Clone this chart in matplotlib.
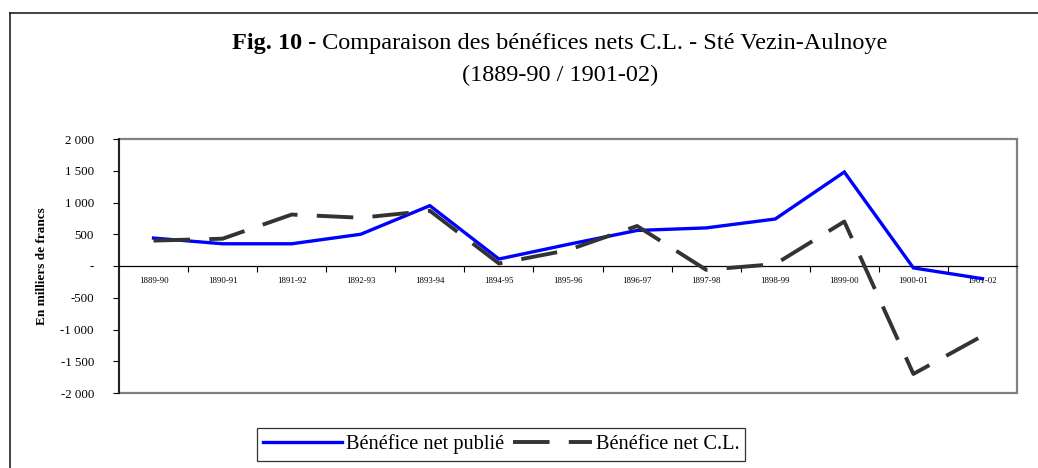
import matplotlib
matplotlib.use('Agg')
import numpy as np
import matplotlib.pyplot as plt
from matplotlib.lines import Line2D
from matplotlib.patches import Rectangle

# Exercices comptables
exercices = ['1889-90', '1890-91', '1891-92', '1892-93', '1893-94', '1894-95',
             '1895-96', '1896-97', '1897-98', '1898-99', '1899-00', '1900-01',
             '1901-02']

# Bénéfices en milliers de francs
benef_publie = [440, 350, 350, 500, 950, 110, 340, 560, 600, 740, 1480, -30, -200]
benef_cl = [400, 430, 810, 760, 870, 40, 250, 630, -60, 30, 700, -1700, -1100]

y_ticks = [-2000, -1500, -1000, -500, 0, 500, 1000, 1500, 2000]

plt.rcParams['font.family'] = ['Liberation Serif', 'DejaVu Serif']


def fmt_fr(v):
    if v == 0:
        return '-'
    s = f'{abs(v):,}'.replace(',', ' ')
    return ('-' if v < 0 else '') + s


def main():
    fig = plt.figure(figsize=(10.38, 4.68), dpi=100)
    W, H = 1038, 468

    # cadre de la figure (haut et gauche)
    fig.add_artist(Line2D([10 / W, 1.0], [1 - 13 / H, 1 - 13 / H],
                          transform=fig.transFigure, color='#222222', lw=1.2))
    fig.add_artist(Line2D([10 / W, 10 / W], [0.0, 1 - 13 / H],
                          transform=fig.transFigure, color='#222222', lw=1.2))

    left, right, top, bottom = 119, 1017, 139, 393
    ax = fig.add_axes([left / W, 1 - bottom / H, (right - left) / W, (bottom - top) / H])
    ax.set_xlim(-0.5, len(exercices) - 0.5)
    ax.set_ylim(-2000, 2000)

    x = list(range(len(exercices)))

    # motif de tirets : un tiret sur le creux de 1900-01
    lw_cl = 2.8
    px_per_unit = lw_cl * 100 / 72
    pts = ax.transData.transform(np.column_stack([x, benef_cl]))
    seg = np.hypot(*np.diff(pts, axis=0).T)
    L = seg[:11].sum()
    on_ratio = 0.655
    n = round((L - 18) / 55)
    period = (L - 0.5 * on_ratio * (L - 18) / n) / n
    dash_on = on_ratio * period / px_per_unit
    dash_off = (1 - on_ratio) * period / px_per_unit

    ax.plot(x, benef_publie, color='#0000FF', lw=2.4, solid_joinstyle='miter',
            label='Bénéfice net publié', zorder=3)
    ax.plot(x, benef_cl, color='#333333', lw=lw_cl, linestyle=(0, (dash_on, dash_off)),
            label='Bénéfice net C.L.', zorder=4)

    # axe des abscisses sur la ligne zéro
    ax.spines['bottom'].set_position(('data', 0))
    ax.spines['bottom'].set_color('black')
    ax.spines['bottom'].set_linewidth(0.9)
    ax.spines['top'].set_visible(False)
    ax.spines['right'].set_visible(False)
    ax.spines['left'].set_color('#111111')
    ax.spines['left'].set_linewidth(1.2)
    ax.add_patch(Rectangle((0, 0), 1, 1, transform=ax.transAxes, fill=False,
                           edgecolor='#808080', lw=1.6, zorder=1, clip_on=False))

    ax.set_xticks(x)
    ax.set_xticklabels(exercices, fontsize=6.3)
    ax.set_xticks([i + 0.5 for i in x[:-1]], minor=True)
    ax.tick_params(axis='x', which='major', length=0, pad=8)
    ax.tick_params(axis='x', which='minor', length=4, width=0.8, direction='out')

    ax.set_yticks(y_ticks)
    ax.set_yticklabels([fmt_fr(v) for v in y_ticks], fontsize=9.3)
    ax.tick_params(axis='y', length=4, width=0.8, direction='out', pad=14)

    ax.set_ylabel('En milliers de francs', fontsize=9.5, fontweight='bold')
    ax.yaxis.set_label_coords((48 - left) / (right - left), 0.5)

    # titre : partie grasse + partie normale, centrée
    fs_title = 17.5
    xc = 560
    t1 = fig.text(0, 1 - 49 / H, 'Fig. 10 -', fontsize=fs_title, fontweight='bold',
                  ha='left', va='baseline')
    t2 = fig.text(0, 1 - 49 / H,
                  ' Comparaison des bénéfices nets C.L. - Sté Vezin-Aulnoye',
                  fontsize=fs_title, ha='left', va='baseline')
    fig.canvas.draw()
    w1 = t1.get_window_extent().width
    w2 = t2.get_window_extent().width
    x0 = xc - (w1 + w2) / 2
    t1.set_x(x0 / W)
    t2.set_x((x0 + w1) / W)
    fig.text(xc / W, 1 - 81 / H, '(1889-90 / 1901-02)', fontsize=fs_title,
             ha='center', va='baseline')

    leg = fig.legend(loc='center', bbox_to_anchor=(501 / W, 1 - 444.5 / H), ncol=2,
                     fontsize=14.7, frameon=True, fancybox=False, handlelength=3.9,
                     handletextpad=0.15, columnspacing=0.45, borderpad=0.3,
                     borderaxespad=0)
    leg.get_frame().set_edgecolor('black')
    leg.get_frame().set_linewidth(0.9)

    fig.savefig('out.png', dpi=100)


if __name__ == '__main__':
    main()
